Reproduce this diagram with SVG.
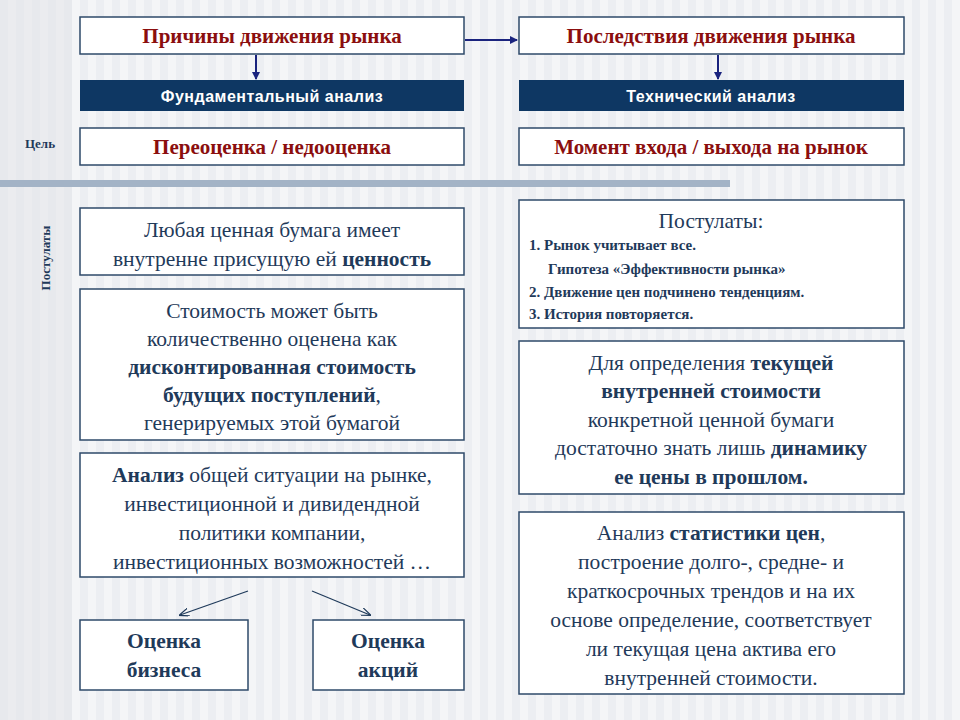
<svg xmlns="http://www.w3.org/2000/svg" width="960" height="720" viewBox="0 0 960 720">
<defs>
<pattern id="st" width="16" height="10" patternUnits="userSpaceOnUse"><rect width="16" height="10" fill="#f4f5f7"/><rect width="8" height="10" fill="#eceef2"/></pattern>
<marker id="ah" markerWidth="8" markerHeight="8" refX="7" refY="4" orient="auto" markerUnits="userSpaceOnUse"><path d="M0,0 L8,4 L0,8 Z" fill="#1a237e"/></marker>
<marker id="ab" markerWidth="10" markerHeight="8" refX="9" refY="4" orient="auto" markerUnits="userSpaceOnUse"><path d="M0,0 L10,4 L0,8" fill="none" stroke="#1f3a5a" stroke-width="1.2"/></marker>
</defs>
<style>
.b{fill:#fff;stroke:#2e4a6a;stroke-width:1.5}
.d{fill:#0e3763}
.t,.r,.s{font-family:"Liberation Serif","Times New Roman","Noto Serif","DejaVu Serif",serif}
.t{fill:#1f3a5a;text-anchor:middle}
.r{fill:#8b0e0e;font-weight:bold;font-size:21px;text-anchor:middle}
.s{fill:#1f3a5a;font-weight:bold;font-size:15px}
.w{font-family:"Liberation Sans",sans-serif;fill:#fff;font-weight:bold;font-size:16px;text-anchor:middle;letter-spacing:0.5px}
.m{font-size:21.5px}
.k{font-weight:bold}
</style>
<rect width="960" height="720" fill="url(#st)"/>
<rect width="72" height="720" fill="#e4e6ea" opacity="0.6"/>
<rect x="0" y="180" width="730" height="7" fill="#a3b3c6"/>
<text class="t k" x="40" y="148" font-size="13">Цель</text>
<text class="t k" font-size="13" transform="translate(50,258) rotate(-90)">Постулаты</text>
<g id="connectors" stroke="#1a237e" stroke-width="2">
<line x1="465" y1="40" x2="517" y2="40" marker-end="url(#ah)"/>
<line x1="256" y1="55" x2="256" y2="79" marker-end="url(#ah)"/>
<line x1="718" y1="55" x2="718" y2="79" marker-end="url(#ah)"/>
<line x1="248" y1="591" x2="180" y2="615" stroke="#1f3a5a" stroke-width="1.2" marker-end="url(#ab)"/>
<line x1="312" y1="591" x2="370" y2="615" stroke="#1f3a5a" stroke-width="1.2" marker-end="url(#ab)"/>
</g>
<g id="n1"><rect class="b" x="80" y="17" width="384" height="37"/><text class="r" x="272" y="43">Причины движения рынка</text></g>
<g id="n2"><rect class="b" x="519" y="17" width="385" height="37"/><text class="r" x="711" y="43">Последствия движения рынка</text></g>
<g id="n3"><rect class="d" x="80" y="80" width="384" height="31"/><text class="w" x="272" y="102">Фундаментальный анализ</text></g>
<g id="n4"><rect class="d" x="519" y="80" width="385" height="31"/><text class="w" x="711" y="102">Технический анализ</text></g>
<g id="n5"><rect class="b" x="80" y="128" width="384" height="37"/><text class="r" x="272" y="154">Переоценка / недооценка</text></g>
<g id="n6"><rect class="b" x="519" y="128" width="385" height="37"/><text class="r" x="711" y="154">Момент входа / выхода на рынок</text></g>
<g id="n7"><rect class="b" x="80" y="208" width="384" height="67"/>
<text class="t m" x="272" y="237">Любая ценная бумага имеет</text>
<text class="t m" x="272" y="266">внутренне присущую ей <tspan class="k">ценность</tspan></text></g>
<g id="n8"><rect class="b" x="80" y="289" width="384" height="151"/>
<text class="t m" x="272" y="318">Стоимость может быть</text>
<text class="t m" x="272" y="346">количественно оценена как</text>
<text class="t m k" x="272" y="374">дисконтированная стоимость</text>
<text class="t m" x="272" y="402"><tspan class="k">будущих поступлений</tspan>,</text>
<text class="t m" x="272" y="430">генерируемых этой бумагой</text></g>
<g id="n9"><rect class="b" x="80" y="453" width="384" height="124"/>
<text class="t m" x="272" y="482"><tspan class="k">Анализ</tspan> общей ситуации на рынке,</text>
<text class="t m" x="272" y="511">инвестиционной и дивидендной</text>
<text class="t m" x="272" y="540">политики компании,</text>
<text class="t m" x="272" y="569">инвестиционных возможностей …</text></g>
<g id="n10"><rect class="b" x="80" y="620" width="168" height="70"/>
<text class="t m k" x="164" y="648">Оценка</text><text class="t m k" x="164" y="677">бизнеса</text></g>
<g id="n11"><rect class="b" x="313" y="620" width="151" height="70"/>
<text class="t m k" x="388" y="648">Оценка</text><text class="t m k" x="388" y="677">акций</text></g>
<g id="n12"><rect class="b" x="519" y="200" width="385" height="128"/>
<text class="t m" x="711" y="228">Постулаты:</text>
<text class="s" x="529" y="250">1. Рынок учитывает все.</text>
<text class="s" x="548" y="274">Гипотеза «Эффективности рынка»</text>
<text class="s" x="529" y="297">2. Движение цен подчинено тенденциям.</text>
<text class="s" x="529" y="319">3. История повторяется.</text></g>
<g id="n13"><rect class="b" x="519" y="341" width="385" height="153"/>
<text class="t m" x="711" y="370">Для определения <tspan class="k">текущей</tspan></text>
<text class="t m k" x="711" y="398">внутренней стоимости</text>
<text class="t m" x="711" y="427">конкретной ценной бумаги</text>
<text class="t m" x="711" y="455">достаточно знать лишь <tspan class="k">динамику</tspan></text>
<text class="t m k" x="711" y="484">ее цены в прошлом.</text></g>
<g id="n14"><rect class="b" x="519" y="512" width="385" height="182"/>
<text class="t m" x="711" y="540">Анализ <tspan class="k">статистики цен</tspan>,</text>
<text class="t m" x="711" y="569">построение долго-, средне- и</text>
<text class="t m" x="711" y="598">краткосрочных трендов и на их</text>
<text class="t m" x="711" y="627">основе определение, соответствует</text>
<text class="t m" x="711" y="656">ли текущая цена актива его</text>
<text class="t m" x="711" y="685">внутренней стоимости.</text></g>
</svg>
